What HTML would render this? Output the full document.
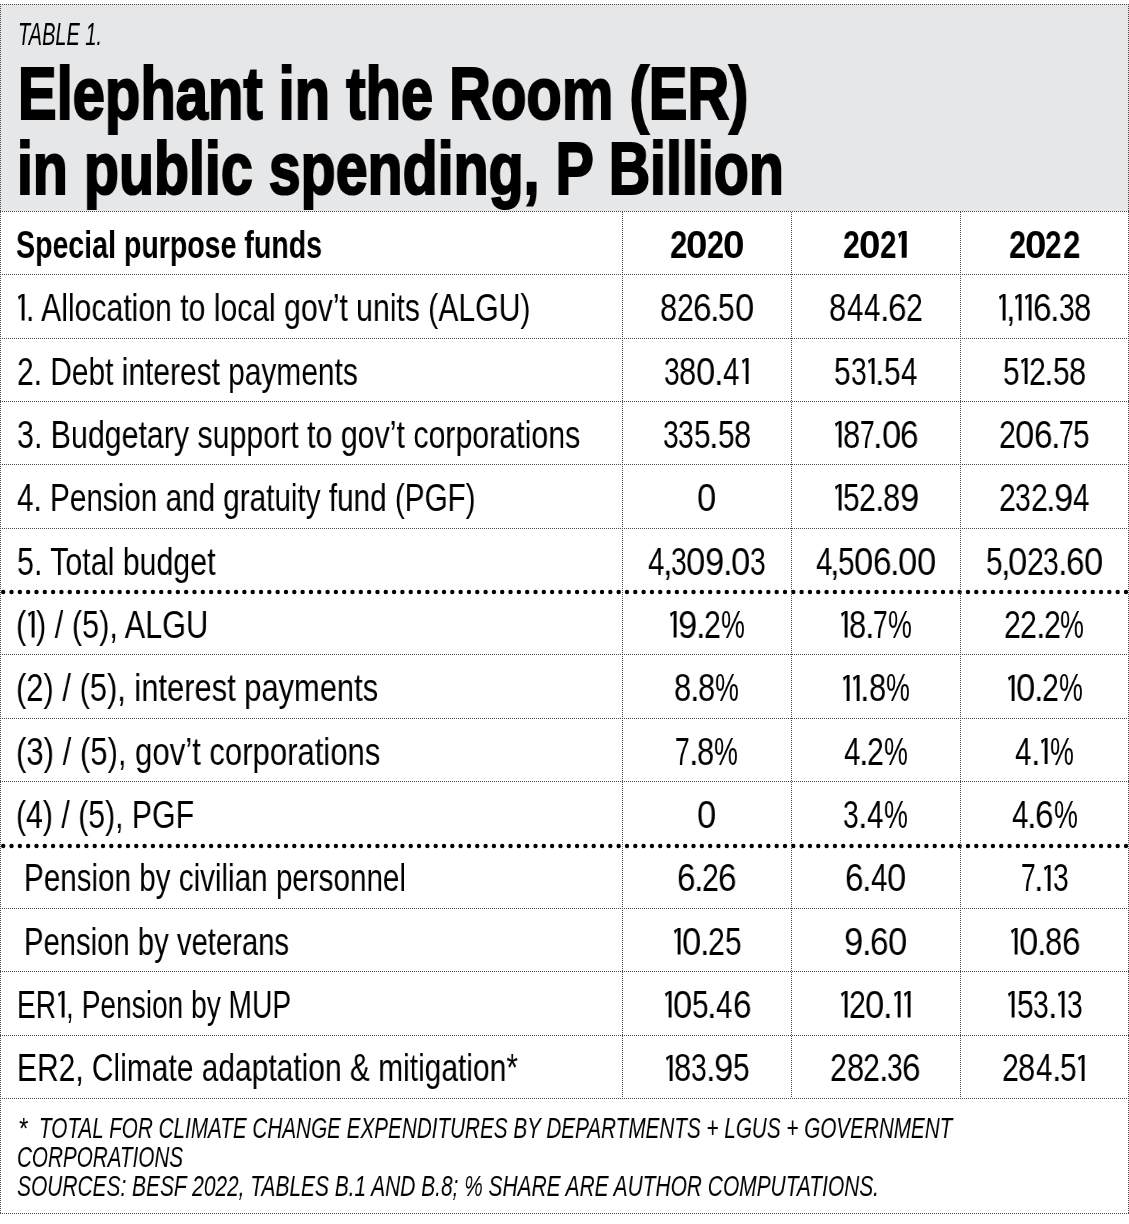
<!DOCTYPE html>
<html><head><meta charset="utf-8"><style>
html,body{margin:0;padding:0;background:#fff;width:1129px;height:1224px;overflow:hidden;position:relative}
.t{position:absolute;white-space:pre;line-height:1;transform-origin:0 0;color:#000;font-family:"Liberation Sans",sans-serif;will-change:transform}
.hd{position:absolute;left:0;top:4px;width:1129px;height:207px;background:#e6e7e9}
.hl{position:absolute;height:1px;background:repeating-linear-gradient(90deg,#4a4a4a 0 1px,#fff0 1px 2px)}
.vl{position:absolute;width:1px;background:repeating-linear-gradient(180deg,#4a4a4a 0 1px,#fff0 1px 2px)}
.th{position:absolute;left:0}
.one{position:absolute}
</style></head><body>
<div class="hd"></div>
<div class="hl" style="top:211px;left:0px;width:1129px"></div>
<div class="hl" style="top:274px;left:0px;width:1129px"></div>
<div class="hl" style="top:338px;left:0px;width:1129px"></div>
<div class="hl" style="top:401px;left:0px;width:1129px"></div>
<div class="hl" style="top:464px;left:0px;width:1129px"></div>
<div class="hl" style="top:528px;left:0px;width:1129px"></div>
<svg class="th" style="top:587.5px" width="1129" height="8"><line x1="3.2" y1="4" x2="1127" y2="4" stroke="#000" stroke-width="4.4" stroke-linecap="round" stroke-dasharray="0 8.317"/></svg>
<div class="hl" style="top:654px;left:0px;width:1129px"></div>
<div class="hl" style="top:718px;left:0px;width:1129px"></div>
<div class="hl" style="top:781px;left:0px;width:1129px"></div>
<svg class="th" style="top:841.5px" width="1129" height="8"><line x1="3.2" y1="4" x2="1127" y2="4" stroke="#000" stroke-width="4.4" stroke-linecap="round" stroke-dasharray="0 8.317"/></svg>
<div class="hl" style="top:908px;left:0px;width:1129px"></div>
<div class="hl" style="top:971px;left:0px;width:1129px"></div>
<div class="hl" style="top:1035px;left:0px;width:1129px"></div>
<div class="hl" style="top:1098px;left:0px;width:1129px"></div>
<div class="hl" style="top:4px;left:0px;width:1129px"></div>
<div class="hl" style="top:1213px;left:0px;width:1129px"></div>
<div class="vl" style="left:0px;top:4px;height:1210px"></div>
<div class="vl" style="left:1128px;top:4px;height:1210px"></div>
<div class="vl" style="left:622px;top:212px;height:886px"></div>
<div class="vl" style="left:791px;top:212px;height:886px"></div>
<div class="vl" style="left:960px;top:212px;height:886px"></div>
<div class="t" style="left:17.90px;top:18.98px;font-size:30.5px;font-weight:400;font-style:italic;transform:scaleX(0.6553);">TABLE 1.</div>
<div class="t" style="left:17.90px;top:55.50px;font-size:75px;font-weight:700;font-style:normal;transform:scaleX(0.7723);-webkit-text-stroke:2.2px #000">Elephant in the Room (ER)</div>
<div class="t" style="left:16.80px;top:130.90px;font-size:75px;font-weight:700;font-style:normal;transform:scaleX(0.7647);-webkit-text-stroke:2.2px #000">in public spending, P Billion</div>
<div class="t" style="left:16.14px;top:225.90px;font-size:38.5px;font-weight:700;font-style:normal;transform:scaleX(0.7412);">Special purpose funds</div>
<div class="t" style="left:669.90px;top:226.10px;font-size:38.5px;font-weight:700;font-style:normal;transform:scaleX(0.8129);">2</div>
<div class="t" style="left:686.48px;top:226.10px;font-size:38.5px;font-weight:700;font-style:normal;transform:scaleX(0.9843);">0</div>
<div class="t" style="left:707.23px;top:226.10px;font-size:38.5px;font-weight:700;font-style:normal;transform:scaleX(0.7913);">2</div>
<div class="t" style="left:723.35px;top:226.10px;font-size:38.5px;font-weight:700;font-style:normal;transform:scaleX(1.0062);">0</div>
<div class="t" style="left:843.24px;top:226.10px;font-size:38.5px;font-weight:700;font-style:normal;transform:scaleX(0.7859);">2</div>
<div class="t" style="left:859.38px;top:226.10px;font-size:38.5px;font-weight:700;font-style:normal;transform:scaleX(0.9843);">0</div>
<div class="t" style="left:880.46px;top:226.10px;font-size:38.5px;font-weight:700;font-style:normal;transform:scaleX(0.7698);">2</div>
<svg class="one" style="left:898.10px;top:231.10px" width="9.20" height="26.80"><path d="M0,2.79 L4.45,0 L8.70,0 L8.70,26.80 L3.70,26.80 L3.70,2.48 L1.75,7.73 Z" fill="#000"/></svg>
<div class="t" style="left:1009.02px;top:226.10px;font-size:38.5px;font-weight:700;font-style:normal;transform:scaleX(0.8021);">2</div>
<div class="t" style="left:1025.28px;top:226.10px;font-size:38.5px;font-weight:700;font-style:normal;transform:scaleX(0.9897);">0</div>
<div class="t" style="left:1045.36px;top:226.10px;font-size:38.5px;font-weight:700;font-style:normal;transform:scaleX(0.7698);">2</div>
<div class="t" style="left:1063.00px;top:226.10px;font-size:38.5px;font-weight:700;font-style:normal;transform:scaleX(0.8129);">2</div>
<svg class="one" style="left:18.00px;top:294.36px" width="7.06" height="26.60"><path d="M0,2.48 L4.09,0 L6.56,0 L6.56,26.60 L3.66,26.60 L3.66,2.20 L1.01,5.94 Z" fill="#000"/></svg><div class="t" style="left:26.34px;top:289.16px;font-size:38.5px;font-weight:400;font-style:normal;transform:scaleX(0.7832);">. Allocation to local gov’t units (ALGU)</div>
<div class="t" style="left:659.86px;top:289.16px;font-size:38.5px;font-weight:400;font-style:normal;transform:scaleX(0.8041);">8</div><div class="t" style="left:676.59px;top:289.16px;font-size:38.5px;font-weight:400;font-style:normal;transform:scaleX(0.7866);">2</div><div class="t" style="left:692.58px;top:289.16px;font-size:38.5px;font-weight:400;font-style:normal;transform:scaleX(0.8671);">6</div><div class="t" style="left:709.73px;top:289.16px;font-size:38.5px;font-weight:400;font-style:normal;transform:scaleX(0.9000);">.</div><div class="t" style="left:718.20px;top:289.16px;font-size:38.5px;font-weight:400;font-style:normal;transform:scaleX(0.7743);">5</div><div class="t" style="left:734.54px;top:289.16px;font-size:38.5px;font-weight:400;font-style:normal;transform:scaleX(0.8975);">0</div>
<div class="t" style="left:829.15px;top:289.16px;font-size:38.5px;font-weight:400;font-style:normal;transform:scaleX(0.8041);">8</div><div class="t" style="left:846.72px;top:289.16px;font-size:38.5px;font-weight:400;font-style:normal;transform:scaleX(0.7684);">4</div><div class="t" style="left:864.03px;top:289.16px;font-size:38.5px;font-weight:400;font-style:normal;transform:scaleX(0.7684);">4</div><div class="t" style="left:879.68px;top:289.16px;font-size:38.5px;font-weight:400;font-style:normal;transform:scaleX(0.9000);">.</div><div class="t" style="left:887.67px;top:289.16px;font-size:38.5px;font-weight:400;font-style:normal;transform:scaleX(0.8671);">6</div><div class="t" style="left:905.64px;top:289.16px;font-size:38.5px;font-weight:400;font-style:normal;transform:scaleX(0.7866);">2</div>
<svg class="one" style="left:999.35px;top:294.36px" width="7.06" height="26.60"><path d="M0,2.48 L4.10,0 L6.56,0 L6.56,26.60 L3.66,26.60 L3.66,2.20 L1.01,5.94 Z" fill="#000"/></svg><div class="t" style="left:1005.72px;top:289.16px;font-size:38.5px;font-weight:400;font-style:normal;transform:scaleX(0.9000);">,</div><svg class="one" style="left:1015.15px;top:294.36px" width="7.06" height="26.60"><path d="M0,2.48 L4.10,0 L6.56,0 L6.56,26.60 L3.66,26.60 L3.66,2.20 L1.01,5.94 Z" fill="#000"/></svg><svg class="one" style="left:1025.28px;top:294.36px" width="7.06" height="26.60"><path d="M0,2.48 L4.10,0 L6.56,0 L6.56,26.60 L3.66,26.60 L3.66,2.20 L1.01,5.94 Z" fill="#000"/></svg><div class="t" style="left:1033.14px;top:289.16px;font-size:38.5px;font-weight:400;font-style:normal;transform:scaleX(0.8671);">6</div><div class="t" style="left:1050.29px;top:289.16px;font-size:38.5px;font-weight:400;font-style:normal;transform:scaleX(0.9000);">.</div><div class="t" style="left:1058.89px;top:289.16px;font-size:38.5px;font-weight:400;font-style:normal;transform:scaleX(0.7316);">3</div><div class="t" style="left:1074.38px;top:289.16px;font-size:38.5px;font-weight:400;font-style:normal;transform:scaleX(0.8041);">8</div>
<div class="t" style="left:16.50px;top:352.52px;font-size:38.5px;font-weight:400;font-style:normal;transform:scaleX(0.7769);">2. Debt interest payments</div>
<div class="t" style="left:663.77px;top:352.52px;font-size:38.5px;font-weight:400;font-style:normal;transform:scaleX(0.7316);">3</div><div class="t" style="left:679.26px;top:352.52px;font-size:38.5px;font-weight:400;font-style:normal;transform:scaleX(0.8041);">8</div><div class="t" style="left:696.12px;top:352.52px;font-size:38.5px;font-weight:400;font-style:normal;transform:scaleX(0.8975);">0</div><div class="t" style="left:714.04px;top:352.52px;font-size:38.5px;font-weight:400;font-style:normal;transform:scaleX(0.9000);">.</div><div class="t" style="left:723.03px;top:352.52px;font-size:38.5px;font-weight:400;font-style:normal;transform:scaleX(0.7684);">4</div><svg class="one" style="left:741.61px;top:357.71px" width="7.06" height="26.60"><path d="M0,2.48 L4.10,0 L6.56,0 L6.56,26.60 L3.66,26.60 L3.66,2.20 L1.01,5.94 Z" fill="#000"/></svg>
<div class="t" style="left:833.90px;top:352.52px;font-size:38.5px;font-weight:400;font-style:normal;transform:scaleX(0.7743);">5</div><div class="t" style="left:850.57px;top:352.52px;font-size:38.5px;font-weight:400;font-style:normal;transform:scaleX(0.7316);">3</div><svg class="one" style="left:867.98px;top:357.71px" width="7.06" height="26.60"><path d="M0,2.48 L4.10,0 L6.56,0 L6.56,26.60 L3.66,26.60 L3.66,2.20 L1.01,5.94 Z" fill="#000"/></svg><div class="t" style="left:875.18px;top:352.52px;font-size:38.5px;font-weight:400;font-style:normal;transform:scaleX(0.9000);">.</div><div class="t" style="left:883.64px;top:352.52px;font-size:38.5px;font-weight:400;font-style:normal;transform:scaleX(0.7743);">5</div><div class="t" style="left:900.70px;top:352.52px;font-size:38.5px;font-weight:400;font-style:normal;transform:scaleX(0.7684);">4</div>
<div class="t" style="left:1002.70px;top:352.52px;font-size:38.5px;font-weight:400;font-style:normal;transform:scaleX(0.7743);">5</div><svg class="one" style="left:1021.02px;top:357.71px" width="7.06" height="26.60"><path d="M0,2.48 L4.10,0 L6.56,0 L6.56,26.60 L3.66,26.60 L3.66,2.20 L1.01,5.94 Z" fill="#000"/></svg><div class="t" style="left:1029.04px;top:352.52px;font-size:38.5px;font-weight:400;font-style:normal;transform:scaleX(0.7866);">2</div><div class="t" style="left:1044.37px;top:352.52px;font-size:38.5px;font-weight:400;font-style:normal;transform:scaleX(0.9000);">.</div><div class="t" style="left:1052.84px;top:352.52px;font-size:38.5px;font-weight:400;font-style:normal;transform:scaleX(0.7743);">5</div><div class="t" style="left:1069.24px;top:352.52px;font-size:38.5px;font-weight:400;font-style:normal;transform:scaleX(0.8041);">8</div>
<div class="t" style="left:16.86px;top:415.87px;font-size:38.5px;font-weight:400;font-style:normal;transform:scaleX(0.7880);">3. Budgetary support to gov’t corporations</div>
<div class="t" style="left:662.52px;top:415.87px;font-size:38.5px;font-weight:400;font-style:normal;transform:scaleX(0.7316);">3</div><div class="t" style="left:678.27px;top:415.87px;font-size:38.5px;font-weight:400;font-style:normal;transform:scaleX(0.7316);">3</div><div class="t" style="left:693.89px;top:415.87px;font-size:38.5px;font-weight:400;font-style:normal;transform:scaleX(0.7743);">5</div><div class="t" style="left:709.28px;top:415.87px;font-size:38.5px;font-weight:400;font-style:normal;transform:scaleX(0.9000);">.</div><div class="t" style="left:717.75px;top:415.87px;font-size:38.5px;font-weight:400;font-style:normal;transform:scaleX(0.7743);">5</div><div class="t" style="left:734.15px;top:415.87px;font-size:38.5px;font-weight:400;font-style:normal;transform:scaleX(0.8041);">8</div>
<svg class="one" style="left:834.77px;top:421.07px" width="7.06" height="26.60"><path d="M0,2.48 L4.10,0 L6.56,0 L6.56,26.60 L3.66,26.60 L3.66,2.20 L1.01,5.94 Z" fill="#000"/></svg><div class="t" style="left:842.99px;top:415.87px;font-size:38.5px;font-weight:400;font-style:normal;transform:scaleX(0.8041);">8</div><div class="t" style="left:859.91px;top:415.87px;font-size:38.5px;font-weight:400;font-style:normal;transform:scaleX(0.6845);">7</div><div class="t" style="left:873.26px;top:415.87px;font-size:38.5px;font-weight:400;font-style:normal;transform:scaleX(0.9000);">.</div><div class="t" style="left:881.53px;top:415.87px;font-size:38.5px;font-weight:400;font-style:normal;transform:scaleX(0.8975);">0</div><div class="t" style="left:900.12px;top:415.87px;font-size:38.5px;font-weight:400;font-style:normal;transform:scaleX(0.8671);">6</div>
<div class="t" style="left:998.65px;top:415.87px;font-size:38.5px;font-weight:400;font-style:normal;transform:scaleX(0.7866);">2</div><div class="t" style="left:1014.93px;top:415.87px;font-size:38.5px;font-weight:400;font-style:normal;transform:scaleX(0.8975);">0</div><div class="t" style="left:1033.51px;top:415.87px;font-size:38.5px;font-weight:400;font-style:normal;transform:scaleX(0.8671);">6</div><div class="t" style="left:1050.66px;top:415.87px;font-size:38.5px;font-weight:400;font-style:normal;transform:scaleX(0.9000);">.</div><div class="t" style="left:1059.00px;top:415.87px;font-size:38.5px;font-weight:400;font-style:normal;transform:scaleX(0.6845);">7</div><div class="t" style="left:1073.49px;top:415.87px;font-size:38.5px;font-weight:400;font-style:normal;transform:scaleX(0.7743);">5</div>
<div class="t" style="left:17.33px;top:479.23px;font-size:38.5px;font-weight:400;font-style:normal;transform:scaleX(0.7709);">4. Pension and gratuity fund (PGF)</div>
<div class="t" style="left:697.17px;top:479.23px;font-size:38.5px;font-weight:400;font-style:normal;transform:scaleX(0.8975);">0</div>
<svg class="one" style="left:834.74px;top:484.43px" width="7.06" height="26.60"><path d="M0,2.48 L4.10,0 L6.56,0 L6.56,26.60 L3.66,26.60 L3.66,2.20 L1.01,5.94 Z" fill="#000"/></svg><div class="t" style="left:843.08px;top:479.23px;font-size:38.5px;font-weight:400;font-style:normal;transform:scaleX(0.7743);">5</div><div class="t" style="left:859.29px;top:479.23px;font-size:38.5px;font-weight:400;font-style:normal;transform:scaleX(0.7866);">2</div><div class="t" style="left:874.62px;top:479.23px;font-size:38.5px;font-weight:400;font-style:normal;transform:scaleX(0.9000);">.</div><div class="t" style="left:882.96px;top:479.23px;font-size:38.5px;font-weight:400;font-style:normal;transform:scaleX(0.8041);">8</div><div class="t" style="left:899.55px;top:479.23px;font-size:38.5px;font-weight:400;font-style:normal;transform:scaleX(0.9019);">9</div>
<div class="t" style="left:998.61px;top:479.23px;font-size:38.5px;font-weight:400;font-style:normal;transform:scaleX(0.7866);">2</div><div class="t" style="left:1015.22px;top:479.23px;font-size:38.5px;font-weight:400;font-style:normal;transform:scaleX(0.7316);">3</div><div class="t" style="left:1030.51px;top:479.23px;font-size:38.5px;font-weight:400;font-style:normal;transform:scaleX(0.7866);">2</div><div class="t" style="left:1045.85px;top:479.23px;font-size:38.5px;font-weight:400;font-style:normal;transform:scaleX(0.9000);">.</div><div class="t" style="left:1053.86px;top:479.23px;font-size:38.5px;font-weight:400;font-style:normal;transform:scaleX(0.9019);">9</div><div class="t" style="left:1073.27px;top:479.23px;font-size:38.5px;font-weight:400;font-style:normal;transform:scaleX(0.7684);">4</div>
<div class="t" style="left:16.59px;top:542.59px;font-size:38.5px;font-weight:400;font-style:normal;transform:scaleX(0.7882);">5. Total budget</div>
<div class="t" style="left:648.33px;top:542.59px;font-size:38.5px;font-weight:400;font-style:normal;transform:scaleX(0.7684);">4</div><div class="t" style="left:663.15px;top:542.59px;font-size:38.5px;font-weight:400;font-style:normal;transform:scaleX(0.9000);">,</div><div class="t" style="left:670.92px;top:542.59px;font-size:38.5px;font-weight:400;font-style:normal;transform:scaleX(0.7316);">3</div><div class="t" style="left:686.34px;top:542.59px;font-size:38.5px;font-weight:400;font-style:normal;transform:scaleX(0.8975);">0</div><div class="t" style="left:704.95px;top:542.59px;font-size:38.5px;font-weight:400;font-style:normal;transform:scaleX(0.9019);">9</div><div class="t" style="left:722.70px;top:542.59px;font-size:38.5px;font-weight:400;font-style:normal;transform:scaleX(0.9000);">.</div><div class="t" style="left:730.97px;top:542.59px;font-size:38.5px;font-weight:400;font-style:normal;transform:scaleX(0.8975);">0</div><div class="t" style="left:750.17px;top:542.59px;font-size:38.5px;font-weight:400;font-style:normal;transform:scaleX(0.7316);">3</div>
<div class="t" style="left:815.59px;top:542.59px;font-size:38.5px;font-weight:400;font-style:normal;transform:scaleX(0.7684);">4</div><div class="t" style="left:830.41px;top:542.59px;font-size:38.5px;font-weight:400;font-style:normal;transform:scaleX(0.9000);">,</div><div class="t" style="left:838.04px;top:542.59px;font-size:38.5px;font-weight:400;font-style:normal;transform:scaleX(0.7743);">5</div><div class="t" style="left:854.38px;top:542.59px;font-size:38.5px;font-weight:400;font-style:normal;transform:scaleX(0.8975);">0</div><div class="t" style="left:872.97px;top:542.59px;font-size:38.5px;font-weight:400;font-style:normal;transform:scaleX(0.8671);">6</div><div class="t" style="left:890.12px;top:542.59px;font-size:38.5px;font-weight:400;font-style:normal;transform:scaleX(0.9000);">.</div><div class="t" style="left:898.39px;top:542.59px;font-size:38.5px;font-weight:400;font-style:normal;transform:scaleX(0.8975);">0</div><div class="t" style="left:917.26px;top:542.59px;font-size:38.5px;font-weight:400;font-style:normal;transform:scaleX(0.8975);">0</div>
<div class="t" style="left:986.00px;top:542.59px;font-size:38.5px;font-weight:400;font-style:normal;transform:scaleX(0.7743);">5</div><div class="t" style="left:1000.57px;top:542.59px;font-size:38.5px;font-weight:400;font-style:normal;transform:scaleX(0.9000);">,</div><div class="t" style="left:1008.01px;top:542.59px;font-size:38.5px;font-weight:400;font-style:normal;transform:scaleX(0.8975);">0</div><div class="t" style="left:1026.75px;top:542.59px;font-size:38.5px;font-weight:400;font-style:normal;transform:scaleX(0.7866);">2</div><div class="t" style="left:1043.36px;top:542.59px;font-size:38.5px;font-weight:400;font-style:normal;transform:scaleX(0.7316);">3</div><div class="t" style="left:1057.84px;top:542.59px;font-size:38.5px;font-weight:400;font-style:normal;transform:scaleX(0.9000);">.</div><div class="t" style="left:1065.83px;top:542.59px;font-size:38.5px;font-weight:400;font-style:normal;transform:scaleX(0.8671);">6</div><div class="t" style="left:1083.92px;top:542.59px;font-size:38.5px;font-weight:400;font-style:normal;transform:scaleX(0.8975);">0</div>
<div class="t" style="left:15.78px;top:605.94px;font-size:38.5px;font-weight:400;font-style:normal;transform:scaleX(0.7971);">(</div><svg class="one" style="left:27.79px;top:611.14px" width="7.06" height="26.60"><path d="M0,2.48 L4.09,0 L6.56,0 L6.56,26.60 L3.66,26.60 L3.66,2.20 L1.01,5.94 Z" fill="#000"/></svg><div class="t" style="left:36.13px;top:605.94px;font-size:38.5px;font-weight:400;font-style:normal;transform:scaleX(0.7971);">) / (5), ALGU</div>
<svg class="one" style="left:670.35px;top:611.14px" width="7.06" height="26.60"><path d="M0,2.48 L4.10,0 L6.56,0 L6.56,26.60 L3.66,26.60 L3.66,2.20 L1.01,5.94 Z" fill="#000"/></svg><div class="t" style="left:678.23px;top:605.94px;font-size:38.5px;font-weight:400;font-style:normal;transform:scaleX(0.9019);">9</div><div class="t" style="left:695.98px;top:605.94px;font-size:38.5px;font-weight:400;font-style:normal;transform:scaleX(0.9000);">.</div><div class="t" style="left:704.13px;top:605.94px;font-size:38.5px;font-weight:400;font-style:normal;transform:scaleX(0.7866);">2</div><div class="t" style="left:720.85px;top:605.94px;font-size:38.5px;font-weight:400;font-style:normal;transform:scaleX(0.6988);">%</div>
<svg class="one" style="left:840.90px;top:611.14px" width="7.06" height="26.60"><path d="M0,2.48 L4.10,0 L6.56,0 L6.56,26.60 L3.66,26.60 L3.66,2.20 L1.01,5.94 Z" fill="#000"/></svg><div class="t" style="left:849.11px;top:605.94px;font-size:38.5px;font-weight:400;font-style:normal;transform:scaleX(0.8041);">8</div><div class="t" style="left:865.02px;top:605.94px;font-size:38.5px;font-weight:400;font-style:normal;transform:scaleX(0.9000);">.</div><div class="t" style="left:873.36px;top:605.94px;font-size:38.5px;font-weight:400;font-style:normal;transform:scaleX(0.6845);">7</div><div class="t" style="left:888.10px;top:605.94px;font-size:38.5px;font-weight:400;font-style:normal;transform:scaleX(0.6988);">%</div>
<div class="t" style="left:1004.07px;top:605.94px;font-size:38.5px;font-weight:400;font-style:normal;transform:scaleX(0.7866);">2</div><div class="t" style="left:1020.22px;top:605.94px;font-size:38.5px;font-weight:400;font-style:normal;transform:scaleX(0.7866);">2</div><div class="t" style="left:1035.55px;top:605.94px;font-size:38.5px;font-weight:400;font-style:normal;transform:scaleX(0.9000);">.</div><div class="t" style="left:1043.70px;top:605.94px;font-size:38.5px;font-weight:400;font-style:normal;transform:scaleX(0.7866);">2</div><div class="t" style="left:1060.42px;top:605.94px;font-size:38.5px;font-weight:400;font-style:normal;transform:scaleX(0.6988);">%</div>
<div class="t" style="left:15.77px;top:669.30px;font-size:38.5px;font-weight:400;font-style:normal;transform:scaleX(0.8022);">(2) / (5), interest payments</div>
<div class="t" style="left:673.87px;top:669.30px;font-size:38.5px;font-weight:400;font-style:normal;transform:scaleX(0.8041);">8</div><div class="t" style="left:689.78px;top:669.30px;font-size:38.5px;font-weight:400;font-style:normal;transform:scaleX(0.9000);">.</div><div class="t" style="left:698.12px;top:669.30px;font-size:38.5px;font-weight:400;font-style:normal;transform:scaleX(0.8041);">8</div><div class="t" style="left:715.41px;top:669.30px;font-size:38.5px;font-weight:400;font-style:normal;transform:scaleX(0.6988);">%</div>
<svg class="one" style="left:843.01px;top:674.50px" width="7.06" height="26.60"><path d="M0,2.48 L4.10,0 L6.56,0 L6.56,26.60 L3.66,26.60 L3.66,2.20 L1.01,5.94 Z" fill="#000"/></svg><svg class="one" style="left:853.14px;top:674.50px" width="7.06" height="26.60"><path d="M0,2.48 L4.10,0 L6.56,0 L6.56,26.60 L3.66,26.60 L3.66,2.20 L1.01,5.94 Z" fill="#000"/></svg><div class="t" style="left:860.35px;top:669.30px;font-size:38.5px;font-weight:400;font-style:normal;transform:scaleX(0.9000);">.</div><div class="t" style="left:868.69px;top:669.30px;font-size:38.5px;font-weight:400;font-style:normal;transform:scaleX(0.8041);">8</div><div class="t" style="left:885.98px;top:669.30px;font-size:38.5px;font-weight:400;font-style:normal;transform:scaleX(0.6988);">%</div>
<svg class="one" style="left:1007.83px;top:674.50px" width="7.06" height="26.60"><path d="M0,2.48 L4.10,0 L6.56,0 L6.56,26.60 L3.66,26.60 L3.66,2.20 L1.01,5.94 Z" fill="#000"/></svg><div class="t" style="left:1015.98px;top:669.30px;font-size:38.5px;font-weight:400;font-style:normal;transform:scaleX(0.8975);">0</div><div class="t" style="left:1033.90px;top:669.30px;font-size:38.5px;font-weight:400;font-style:normal;transform:scaleX(0.9000);">.</div><div class="t" style="left:1042.05px;top:669.30px;font-size:38.5px;font-weight:400;font-style:normal;transform:scaleX(0.7866);">2</div><div class="t" style="left:1058.77px;top:669.30px;font-size:38.5px;font-weight:400;font-style:normal;transform:scaleX(0.6988);">%</div>
<div class="t" style="left:15.76px;top:732.66px;font-size:38.5px;font-weight:400;font-style:normal;transform:scaleX(0.8071);">(3) / (5), gov’t corporations</div>
<div class="t" style="left:675.15px;top:732.66px;font-size:38.5px;font-weight:400;font-style:normal;transform:scaleX(0.6845);">7</div><div class="t" style="left:688.50px;top:732.66px;font-size:38.5px;font-weight:400;font-style:normal;transform:scaleX(0.9000);">.</div><div class="t" style="left:696.84px;top:732.66px;font-size:38.5px;font-weight:400;font-style:normal;transform:scaleX(0.8041);">8</div><div class="t" style="left:714.13px;top:732.66px;font-size:38.5px;font-weight:400;font-style:normal;transform:scaleX(0.6988);">%</div>
<div class="t" style="left:843.61px;top:732.66px;font-size:38.5px;font-weight:400;font-style:normal;transform:scaleX(0.7684);">4</div><div class="t" style="left:859.26px;top:732.66px;font-size:38.5px;font-weight:400;font-style:normal;transform:scaleX(0.9000);">.</div><div class="t" style="left:867.40px;top:732.66px;font-size:38.5px;font-weight:400;font-style:normal;transform:scaleX(0.7866);">2</div><div class="t" style="left:884.12px;top:732.66px;font-size:38.5px;font-weight:400;font-style:normal;transform:scaleX(0.6988);">%</div>
<div class="t" style="left:1015.42px;top:732.66px;font-size:38.5px;font-weight:400;font-style:normal;transform:scaleX(0.7684);">4</div><div class="t" style="left:1031.07px;top:732.66px;font-size:38.5px;font-weight:400;font-style:normal;transform:scaleX(0.9000);">.</div><svg class="one" style="left:1041.32px;top:737.86px" width="7.06" height="26.60"><path d="M0,2.48 L4.10,0 L6.56,0 L6.56,26.60 L3.66,26.60 L3.66,2.20 L1.01,5.94 Z" fill="#000"/></svg><div class="t" style="left:1049.91px;top:732.66px;font-size:38.5px;font-weight:400;font-style:normal;transform:scaleX(0.6988);">%</div>
<div class="t" style="left:15.81px;top:796.02px;font-size:38.5px;font-weight:400;font-style:normal;transform:scaleX(0.7853);">(4) / (5), PGF</div>
<div class="t" style="left:697.17px;top:796.02px;font-size:38.5px;font-weight:400;font-style:normal;transform:scaleX(0.8975);">0</div>
<div class="t" style="left:843.42px;top:796.02px;font-size:38.5px;font-weight:400;font-style:normal;transform:scaleX(0.7316);">3</div><div class="t" style="left:857.90px;top:796.02px;font-size:38.5px;font-weight:400;font-style:normal;transform:scaleX(0.9000);">.</div><div class="t" style="left:866.89px;top:796.02px;font-size:38.5px;font-weight:400;font-style:normal;transform:scaleX(0.7684);">4</div><div class="t" style="left:883.92px;top:796.02px;font-size:38.5px;font-weight:400;font-style:normal;transform:scaleX(0.6988);">%</div>
<div class="t" style="left:1011.58px;top:796.02px;font-size:38.5px;font-weight:400;font-style:normal;transform:scaleX(0.7684);">4</div><div class="t" style="left:1027.23px;top:796.02px;font-size:38.5px;font-weight:400;font-style:normal;transform:scaleX(0.9000);">.</div><div class="t" style="left:1035.22px;top:796.02px;font-size:38.5px;font-weight:400;font-style:normal;transform:scaleX(0.8671);">6</div><div class="t" style="left:1053.75px;top:796.02px;font-size:38.5px;font-weight:400;font-style:normal;transform:scaleX(0.6988);">%</div>
<div class="t" style="left:24.06px;top:859.37px;font-size:38.5px;font-weight:400;font-style:normal;transform:scaleX(0.7692);">Pension by civilian personnel</div>
<div class="t" style="left:676.77px;top:859.37px;font-size:38.5px;font-weight:400;font-style:normal;transform:scaleX(0.8671);">6</div><div class="t" style="left:693.92px;top:859.37px;font-size:38.5px;font-weight:400;font-style:normal;transform:scaleX(0.9000);">.</div><div class="t" style="left:702.06px;top:859.37px;font-size:38.5px;font-weight:400;font-style:normal;transform:scaleX(0.7866);">2</div><div class="t" style="left:718.06px;top:859.37px;font-size:38.5px;font-weight:400;font-style:normal;transform:scaleX(0.8671);">6</div>
<div class="t" style="left:844.56px;top:859.37px;font-size:38.5px;font-weight:400;font-style:normal;transform:scaleX(0.8671);">6</div><div class="t" style="left:861.71px;top:859.37px;font-size:38.5px;font-weight:400;font-style:normal;transform:scaleX(0.9000);">.</div><div class="t" style="left:870.70px;top:859.37px;font-size:38.5px;font-weight:400;font-style:normal;transform:scaleX(0.7684);">4</div><div class="t" style="left:887.29px;top:859.37px;font-size:38.5px;font-weight:400;font-style:normal;transform:scaleX(0.8975);">0</div>
<div class="t" style="left:1020.58px;top:859.37px;font-size:38.5px;font-weight:400;font-style:normal;transform:scaleX(0.6845);">7</div><div class="t" style="left:1033.93px;top:859.37px;font-size:38.5px;font-weight:400;font-style:normal;transform:scaleX(0.9000);">.</div><svg class="one" style="left:1044.19px;top:864.57px" width="7.06" height="26.60"><path d="M0,2.48 L4.10,0 L6.56,0 L6.56,26.60 L3.66,26.60 L3.66,2.20 L1.01,5.94 Z" fill="#000"/></svg><div class="t" style="left:1052.66px;top:859.37px;font-size:38.5px;font-weight:400;font-style:normal;transform:scaleX(0.7316);">3</div>
<div class="t" style="left:24.09px;top:922.73px;font-size:38.5px;font-weight:400;font-style:normal;transform:scaleX(0.7599);">Pension by veterans</div>
<svg class="one" style="left:674.08px;top:927.93px" width="7.06" height="26.60"><path d="M0,2.48 L4.10,0 L6.56,0 L6.56,26.60 L3.66,26.60 L3.66,2.20 L1.01,5.94 Z" fill="#000"/></svg><div class="t" style="left:682.23px;top:922.73px;font-size:38.5px;font-weight:400;font-style:normal;transform:scaleX(0.8975);">0</div><div class="t" style="left:700.15px;top:922.73px;font-size:38.5px;font-weight:400;font-style:normal;transform:scaleX(0.9000);">.</div><div class="t" style="left:708.30px;top:922.73px;font-size:38.5px;font-weight:400;font-style:normal;transform:scaleX(0.7866);">2</div><div class="t" style="left:724.77px;top:922.73px;font-size:38.5px;font-weight:400;font-style:normal;transform:scaleX(0.7743);">5</div>
<div class="t" style="left:844.02px;top:922.73px;font-size:38.5px;font-weight:400;font-style:normal;transform:scaleX(0.9019);">9</div><div class="t" style="left:861.77px;top:922.73px;font-size:38.5px;font-weight:400;font-style:normal;transform:scaleX(0.9000);">.</div><div class="t" style="left:869.76px;top:922.73px;font-size:38.5px;font-weight:400;font-style:normal;transform:scaleX(0.8671);">6</div><div class="t" style="left:887.85px;top:922.73px;font-size:38.5px;font-weight:400;font-style:normal;transform:scaleX(0.8975);">0</div>
<svg class="one" style="left:1010.75px;top:927.93px" width="7.06" height="26.60"><path d="M0,2.48 L4.10,0 L6.56,0 L6.56,26.60 L3.66,26.60 L3.66,2.20 L1.01,5.94 Z" fill="#000"/></svg><div class="t" style="left:1018.90px;top:922.73px;font-size:38.5px;font-weight:400;font-style:normal;transform:scaleX(0.8975);">0</div><div class="t" style="left:1036.83px;top:922.73px;font-size:38.5px;font-weight:400;font-style:normal;transform:scaleX(0.9000);">.</div><div class="t" style="left:1045.17px;top:922.73px;font-size:38.5px;font-weight:400;font-style:normal;transform:scaleX(0.8041);">8</div><div class="t" style="left:1061.74px;top:922.73px;font-size:38.5px;font-weight:400;font-style:normal;transform:scaleX(0.8671);">6</div>
<div class="t" style="left:16.68px;top:986.09px;font-size:38.5px;font-weight:400;font-style:normal;transform:scaleX(0.7304);">ER</div><svg class="one" style="left:57.53px;top:991.28px" width="7.06" height="26.60"><path d="M0,2.48 L4.09,0 L6.56,0 L6.56,26.60 L3.66,26.60 L3.66,2.20 L1.01,5.94 Z" fill="#000"/></svg><div class="t" style="left:65.87px;top:986.09px;font-size:38.5px;font-weight:400;font-style:normal;transform:scaleX(0.7304);">, Pension by MUP</div>
<svg class="one" style="left:664.59px;top:991.28px" width="7.06" height="26.60"><path d="M0,2.48 L4.10,0 L6.56,0 L6.56,26.60 L3.66,26.60 L3.66,2.20 L1.01,5.94 Z" fill="#000"/></svg><div class="t" style="left:672.74px;top:986.09px;font-size:38.5px;font-weight:400;font-style:normal;transform:scaleX(0.8975);">0</div><div class="t" style="left:691.80px;top:986.09px;font-size:38.5px;font-weight:400;font-style:normal;transform:scaleX(0.7743);">5</div><div class="t" style="left:707.20px;top:986.09px;font-size:38.5px;font-weight:400;font-style:normal;transform:scaleX(0.9000);">.</div><div class="t" style="left:716.19px;top:986.09px;font-size:38.5px;font-weight:400;font-style:normal;transform:scaleX(0.7684);">4</div><div class="t" style="left:732.50px;top:986.09px;font-size:38.5px;font-weight:400;font-style:normal;transform:scaleX(0.8671);">6</div>
<svg class="one" style="left:841.12px;top:991.28px" width="7.06" height="26.60"><path d="M0,2.48 L4.10,0 L6.56,0 L6.56,26.60 L3.66,26.60 L3.66,2.20 L1.01,5.94 Z" fill="#000"/></svg><div class="t" style="left:849.13px;top:986.09px;font-size:38.5px;font-weight:400;font-style:normal;transform:scaleX(0.7866);">2</div><div class="t" style="left:865.41px;top:986.09px;font-size:38.5px;font-weight:400;font-style:normal;transform:scaleX(0.8975);">0</div><div class="t" style="left:883.34px;top:986.09px;font-size:38.5px;font-weight:400;font-style:normal;transform:scaleX(0.9000);">.</div><svg class="one" style="left:893.60px;top:991.28px" width="7.06" height="26.60"><path d="M0,2.48 L4.10,0 L6.56,0 L6.56,26.60 L3.66,26.60 L3.66,2.20 L1.01,5.94 Z" fill="#000"/></svg><svg class="one" style="left:903.73px;top:991.28px" width="7.06" height="26.60"><path d="M0,2.48 L4.10,0 L6.56,0 L6.56,26.60 L3.66,26.60 L3.66,2.20 L1.01,5.94 Z" fill="#000"/></svg>
<svg class="one" style="left:1008.48px;top:991.28px" width="7.06" height="26.60"><path d="M0,2.48 L4.10,0 L6.56,0 L6.56,26.60 L3.66,26.60 L3.66,2.20 L1.01,5.94 Z" fill="#000"/></svg><div class="t" style="left:1016.81px;top:986.09px;font-size:38.5px;font-weight:400;font-style:normal;transform:scaleX(0.7743);">5</div><div class="t" style="left:1033.48px;top:986.09px;font-size:38.5px;font-weight:400;font-style:normal;transform:scaleX(0.7316);">3</div><div class="t" style="left:1047.96px;top:986.09px;font-size:38.5px;font-weight:400;font-style:normal;transform:scaleX(0.9000);">.</div><svg class="one" style="left:1058.21px;top:991.28px" width="7.06" height="26.60"><path d="M0,2.48 L4.10,0 L6.56,0 L6.56,26.60 L3.66,26.60 L3.66,2.20 L1.01,5.94 Z" fill="#000"/></svg><div class="t" style="left:1066.69px;top:986.09px;font-size:38.5px;font-weight:400;font-style:normal;transform:scaleX(0.7316);">3</div>
<div class="t" style="left:16.53px;top:1049.44px;font-size:38.5px;font-weight:400;font-style:normal;transform:scaleX(0.7777);">ER2, Climate adaptation &amp; mitigation*</div>
<svg class="one" style="left:666.04px;top:1054.64px" width="7.06" height="26.60"><path d="M0,2.48 L4.10,0 L6.56,0 L6.56,26.60 L3.66,26.60 L3.66,2.20 L1.01,5.94 Z" fill="#000"/></svg><div class="t" style="left:674.25px;top:1049.44px;font-size:38.5px;font-weight:400;font-style:normal;transform:scaleX(0.8041);">8</div><div class="t" style="left:691.43px;top:1049.44px;font-size:38.5px;font-weight:400;font-style:normal;transform:scaleX(0.7316);">3</div><div class="t" style="left:705.91px;top:1049.44px;font-size:38.5px;font-weight:400;font-style:normal;transform:scaleX(0.9000);">.</div><div class="t" style="left:713.92px;top:1049.44px;font-size:38.5px;font-weight:400;font-style:normal;transform:scaleX(0.9019);">9</div><div class="t" style="left:732.81px;top:1049.44px;font-size:38.5px;font-weight:400;font-style:normal;transform:scaleX(0.7743);">5</div>
<div class="t" style="left:830.32px;top:1049.44px;font-size:38.5px;font-weight:400;font-style:normal;transform:scaleX(0.7866);">2</div><div class="t" style="left:846.66px;top:1049.44px;font-size:38.5px;font-weight:400;font-style:normal;transform:scaleX(0.8041);">8</div><div class="t" style="left:863.39px;top:1049.44px;font-size:38.5px;font-weight:400;font-style:normal;transform:scaleX(0.7866);">2</div><div class="t" style="left:878.72px;top:1049.44px;font-size:38.5px;font-weight:400;font-style:normal;transform:scaleX(0.9000);">.</div><div class="t" style="left:887.32px;top:1049.44px;font-size:38.5px;font-weight:400;font-style:normal;transform:scaleX(0.7316);">3</div><div class="t" style="left:902.46px;top:1049.44px;font-size:38.5px;font-weight:400;font-style:normal;transform:scaleX(0.8671);">6</div>
<div class="t" style="left:1001.99px;top:1049.44px;font-size:38.5px;font-weight:400;font-style:normal;transform:scaleX(0.7866);">2</div><div class="t" style="left:1018.33px;top:1049.44px;font-size:38.5px;font-weight:400;font-style:normal;transform:scaleX(0.8041);">8</div><div class="t" style="left:1035.90px;top:1049.44px;font-size:38.5px;font-weight:400;font-style:normal;transform:scaleX(0.7684);">4</div><div class="t" style="left:1051.55px;top:1049.44px;font-size:38.5px;font-weight:400;font-style:normal;transform:scaleX(0.9000);">.</div><div class="t" style="left:1060.02px;top:1049.44px;font-size:38.5px;font-weight:400;font-style:normal;transform:scaleX(0.7743);">5</div><svg class="one" style="left:1078.34px;top:1054.64px" width="7.06" height="26.60"><path d="M0,2.48 L4.10,0 L6.56,0 L6.56,26.60 L3.66,26.60 L3.66,2.20 L1.01,5.94 Z" fill="#000"/></svg>
<div class="t" style="left:18.26px;top:1113.12px;font-size:29.5px;font-weight:400;font-style:italic;transform:scaleX(0.8116);">*</div>
<div class="t" style="left:39.14px;top:1113.12px;font-size:29.5px;font-weight:400;font-style:italic;transform:scaleX(0.7012);">TOTAL FOR CLIMATE CHANGE EXPENDITURES BY DEPARTMENTS + LGUS + GOVERNMENT</div>
<div class="t" style="left:17.26px;top:1142.12px;font-size:29.5px;font-weight:400;font-style:italic;transform:scaleX(0.7001);">CORPORATIONS</div>
<div class="t" style="left:16.52px;top:1171.12px;font-size:29.5px;font-weight:400;font-style:italic;transform:scaleX(0.7090);">SOURCES: BESF 2022, TABLES B.1 AND B.8; % SHARE ARE AUTHOR COMPUTATIONS.</div>
</body></html>
